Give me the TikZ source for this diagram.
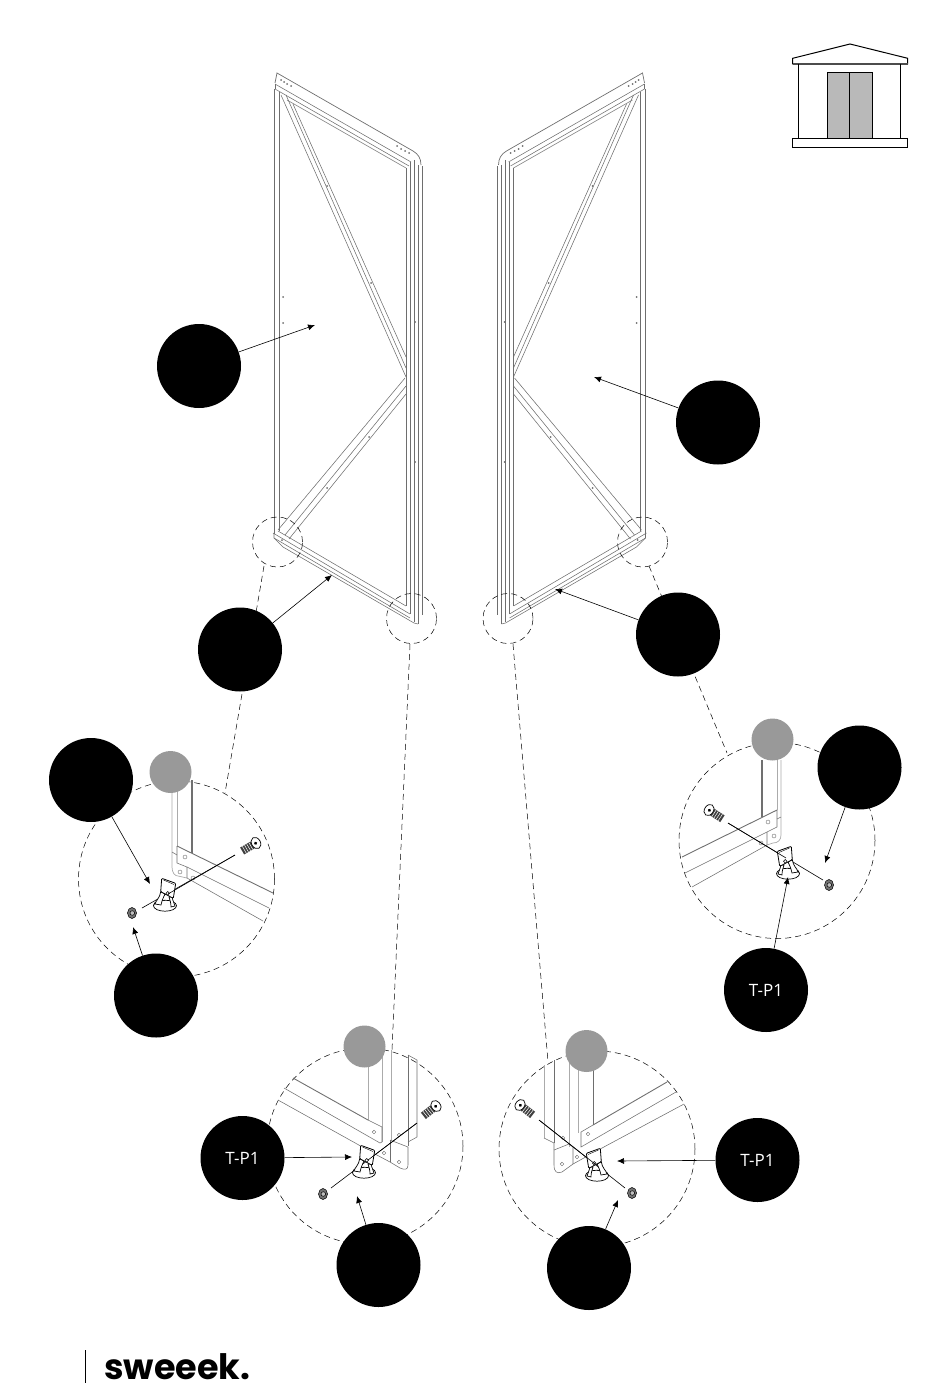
\documentclass[tikz,border=0pt]{standalone}
\usepackage{fontspec}
\usepackage{tikz}
\usetikzlibrary{arrows.meta,positioning}
\newfontfamily\labelfont{Open Sans}
\newfontfamily\brandfont{Poppins}
\definecolor{wire}{HTML}{6E6E6E}
\definecolor{lightwire}{HTML}{ABABAB}
\definecolor{darkwire}{HTML}{707070}
\definecolor{doorgrey}{HTML}{B9B9B9}
\definecolor{markgrey}{HTML}{999999}
\tikzset{
	callout/.style={circle,fill=black,minimum size=84pt,inner sep=0pt,text=white,font=\labelfont\fontsize{17}{17}\selectfont},
	markdot/.style={circle,fill=markgrey,minimum size=42pt,inner sep=0pt},
	ringline/.style={line width=0.5pt,dash pattern=on 6pt off 4pt},
	pointer/.style={line width=0.6pt,-{Latex[length=7pt,width=6pt]}},
	wireline/.style={line width=0.55pt,draw=wire},
	pale/.style={line width=0.7pt,draw=lightwire},
	heavy/.style={line width=1.3pt,draw=darkwire},
	axisline/.style={line width=0.6pt},
	holedot/.style={line width=0.4pt,draw=wire,fill=white},
	screwpart/.pic={
		\fill[black!75] (4,-4) rectangle (16,4);
		\foreach \k in {6,8.5,...,15}
			\draw[white,line width=0.5pt] (\k,-4) -- (\k,4);
		\draw[line width=0.7pt,fill=white] (0,0) ellipse (4.5 and 6);
		\fill[black] (0.5,0) circle (1.7);
	},
	nutpart/.pic={
		\draw[line width=0.5pt,fill=black!55] (0,0) ellipse (4.5 and 5.5);
		\draw[line width=0.5pt,fill=black!25] (0.3,0) circle (2.3);
	},
	footpart/.pic={
		\draw[line width=0.7pt,fill=white] (0,10.7) ellipse (11.5 and 5.5);
		\draw[line width=0.5pt] (-11.5,10.7) .. controls (-11,6) and (-6,5) .. (0,5.5);
		\draw[line width=0.7pt,fill=white] (-4.3,-3.3) .. controls (-5,3) and (-9,5) .. (-10,9) -- (-4,10) .. controls (-3,5) and (-1,1) .. (0,-1) -- cycle;
		\draw[line width=0.7pt,fill=white] (7,2) .. controls (8,6) and (9,8) .. (10,11) -- (6,12) .. controls (6,8) and (5,5) .. (4,2) -- cycle;
		\draw[line width=0.8pt,fill=white,rounded corners=1pt] (-3.3,-16.7) -- (10.7,-11.7) -- (8.3,3.3) -- (-4.3,-3.3) -- cycle;
		\draw[line width=0.4pt] (-1.5,-15) -- (9,-10.5);
		\draw[line width=0.5pt,fill=white] (2.7,-1.7) circle (1.8);
	}
}
% one wire frame panel, drawn in page pixels
\newcommand{\panelframe}{
	% top flange and rail
	\draw[wireline,line width=0.7pt] (275,83) -- (277,73) -- (413,151) .. controls (418,154) and (421,158) .. (421,165);
	\draw[wireline] (275,84) -- (411,162);
	\draw[wireline] (275,89) -- (409,166);
	\draw[wireline] (287,100) -- (406,168);
	\draw[wireline] (275,84) -- (275,89);
	% verticals
	\draw[wireline] (274,89) -- (274,534);
	\draw[wireline] (279,92) -- (279,531);
	\draw[wireline] (406,168) -- (406,606);
	\draw[wireline] (410,162) -- (410,614);
	\draw[wireline] (414,160) -- (414,622);
	\draw[wireline] (418,165) -- (418,624);
	\draw[wireline] (422,166) -- (422,615);
	% braces
	\draw[wireline] (281,95) -- (406,377);
	\draw[wireline] (286,95) -- (406,368);
	\draw[wireline] (293,104) -- (406,357);
	\draw[wireline] (278,530) -- (405,378);
	\draw[wireline] (285,535) -- (406,386);
	\draw[wireline] (289,539) -- (406,394);
	% bottom rail
	\draw[wireline] (278,531) -- (406,606);
	\draw[wireline] (273,533) -- (410,614);
	\draw[wireline] (274,538) -- (410,618);
	\draw[wireline] (274,533) -- (274,538) -- (283,547) -- (414,623) -- (418,624);
	% holes
	\foreach \hx/\hy in {283/297,283/323,327/186,371/283,369/437,327/488,415/322,415/462,282/540}
		\fill[wire] (\hx,\hy) circle (1);
	\foreach \hx/\hy in {281/80,284/82,287/84,291/86,397/146,401/149,405/151,409/153}
		\fill[wire] (\hx,\hy) circle (1);
}
\begin{document}
\begin{tikzpicture}[x=1pt,y=-1pt]
	\useasboundingbox (0,0) rectangle (950,1383);
	% the two panels
	\panelframe
	\begin{scope}[shift={(919.5,0)},xscale=-1]
		\panelframe
	\end{scope}
	% building icon
	\draw[line width=1pt,fill=white] (792.7,64) -- (792.7,58.3) -- (850,44) -- (907.7,58.3) -- (907.7,64) -- cycle;
	\draw[line width=1.6pt,black!70] (792.7,64) -- (907.7,64);
	\draw[line width=1pt] (798.3,64) -- (798.3,138);
	\draw[line width=1pt] (900.7,64) -- (900.7,138);
	\draw[line width=0.8pt,fill=doorgrey] (827.7,72.3) rectangle (872.7,139);
	\draw[line width=0.8pt] (849.3,72.3) -- (849.3,139);
	\draw[line width=1pt,fill=white] (792.7,138.3) rectangle (907.7,147.3);
	% small rings on the panels
	\node[circle,ringline,draw,minimum size=50pt,inner sep=0pt] (ringA) at (277.5,542) {};
	\node[circle,ringline,draw,minimum size=50pt,inner sep=0pt] (ringB) at (411.5,618.5) {};
	\node[circle,ringline,draw,minimum size=50pt,inner sep=0pt] (ringC) at (642.5,542) {};
	\node[circle,ringline,draw,minimum size=50pt,inner sep=0pt] (ringD) at (508,618.5) {};
	% large detail rings
	\node[circle,ringline,draw,minimum size=196pt,inner sep=0pt] (bigA) at (176.5,879) {};
	\node[circle,ringline,draw,minimum size=196pt,inner sep=0pt] (bigB) at (365,1146) {};
	\node[circle,ringline,draw,minimum size=196pt,inner sep=0pt] (bigC) at (777,840.5) {};
	\node[circle,ringline,draw,minimum size=196pt,inner sep=0pt] (bigD) at (597,1149) {};
	% dashed leaders
	\draw[ringline] (264,566) -- (225,793);
	\draw[ringline] (410,644) -- (392,1050);
	\draw[ringline] (649,566) -- (727,753);
	\draw[ringline] (513,644) -- (548,1062);
	% detail left
	\draw[pale] (172,780) -- (172,867) .. controls (172,873) and (175,876) .. (178,876) -- (187,878);
	\draw[pale] (177,780) -- (177,846);
	\draw[heavy] (192,780) -- (192,853);
	\draw[wireline] (177,846) -- (177,863) -- (187,867) -- (187,878) -- (263,921);
	\draw[wireline] (187,867) -- (269,908);
	\draw[heavy,line width=0.9pt] (177,846) -- (273,893);
	\draw[wireline] (172,852) -- (177,855);
	\foreach \hx/\hy in {185/857,180/872,193/878}
		\draw[holedot] (\hx,\hy) circle (2);
	\draw[axisline] (235,855) -- (142,908);
	\pic at (165,895) {footpart};
	\draw[axisline] (235,855) -- (168,894);
	\pic[rotate=210] at (256,843) {screwpart};
	\pic at (132,913) {nutpart};
	% detail bottom left
	\draw[pale] (368,1050) -- (368,1120);
	\draw[pale] (382,1050) -- (382,1142);
	\draw[pale] (391,1050) -- (391,1140);
	\draw[heavy,line width=0.9pt] (408,1055) -- (408,1146);
	\draw[wireline] (408,1055) -- (417,1060) -- (417,1137) -- (408,1142);
	\draw[heavy,line width=0.9pt] (293,1078) -- (368,1120);
	\draw[wireline] (284,1088) -- (380,1143) -- (382,1142) -- (382,1127) -- (368,1120);
	\draw[wireline] (278,1100) -- (375,1154);
	\draw[wireline] (390,1140) -- (408,1147) -- (408,1165) .. controls (408,1170) and (405,1170) .. (400,1168) -- (390,1162) -- (375,1154);
	\draw[wireline] (390,1140) -- (390,1162);
	\foreach \hx/\hy in {374/1132,384/1153,399/1135,399/1162}
		\draw[holedot] (\hx,\hy) circle (1.8);
	\draw[axisline] (417,1123) -- (331,1188);
	\pic at (364,1162) {footpart};
	\draw[axisline] (417,1123) -- (368,1160);
	\pic[rotate=218] at (436,1106) {screwpart};
	\pic at (323,1194) {nutpart};
	% detail right
	\draw[heavy] (762,760) -- (762,817);
	\draw[pale] (777,760) -- (777,810);
	\draw[pale] (781,760) -- (781,835) .. controls (781,840) and (778,843) .. (773,843) -- (767,845);
	\draw[heavy,line width=0.9pt] (777,810) -- (682,857);
	\draw[wireline] (777,810) -- (777,827) -- (767,832) -- (685,873);
	\draw[wireline] (767,832) -- (767,845) -- (692,887);
	\draw[wireline] (781,817) -- (777,819);
	\foreach \hx/\hy in {768/822,774/836,761/843}
		\draw[holedot] (\hx,\hy) circle (2);
	\draw[axisline] (728,823) -- (823,880);
	\pic[xscale=-1] at (788,863) {footpart};
	\draw[axisline] (728,823) -- (786,858);
	\pic[rotate=-33] at (709,810) {screwpart};
	\pic at (829,885) {nutpart};
	% detail bottom right
	\draw[pale] (544,1065) -- (544,1138);
	\draw[wireline] (554,1060) -- (554,1143);
	\draw[pale] (569,1060) -- (569,1147);
	\draw[pale] (578,1060) -- (578,1133);
	\draw[wireline] (593,1060) -- (593,1125);
	\draw[heavy,line width=0.9pt] (593,1125) -- (667,1082);
	\draw[wireline] (593,1125) -- (581,1132) -- (581,1147) -- (676,1092);
	\draw[wireline] (602,1148) -- (684,1104);
	\draw[wireline] (544,1138) -- (554,1143) -- (554,1165) .. controls (554,1172) and (557,1174) .. (562,1172) -- (573,1164) -- (602,1148);
	\draw[wireline] (554,1150) -- (569,1144) -- (573,1147) -- (573,1164);
	\foreach \hx/\hy in {588/1134,577/1157,563/1138,562/1164}
		\draw[holedot] (\hx,\hy) circle (1.8);
	\draw[axisline] (539,1120) -- (625,1188);
	\pic[xscale=-1] at (597,1165) {footpart};
	\draw[axisline] (539,1120) -- (595,1164);
	\pic[rotate=-38] at (520,1105) {screwpart};
	\pic at (632,1193) {nutpart};
	% grey marks
	\node[markdot] (markA) at (170.5,772) {};
	\node[markdot] (markB) at (364.5,1046.5) {};
	\node[markdot] (markC) at (772.5,739.5) {};
	\node[markdot] (markD) at (586.5,1051) {};
	% black callouts
	\node[callout] (panelL) at (199,366) {};
	\node[callout] (panelR) at (718,422.5) {};
	\node[callout] (railL) at (240,649.5) {};
	\node[callout] (railR) at (678,634.5) {};
	\node[callout] (footA) at (91,780) {};
	\node[callout] (nutA) at (156,995.5) {};
	\node[callout] (tagB) at (242.5,1158) {T-P1};
	\node[callout] (nutB) at (378.5,1265) {};
	\node[callout] (footC) at (859.5,767.5) {};
	\node[callout] (tagC) at (766,990) {T-P1};
	\node[callout] (tagD) at (757.5,1160) {T-P1};
	\node[callout] (nutD) at (589,1268) {};
	% arrow tips
	\coordinate (tipPanelL) at (315,325);
	\coordinate (tipPanelR) at (594,377);
	\coordinate (tipRailL) at (332,575);
	\coordinate (tipRailR) at (555,589);
	\coordinate (tipFootA) at (150,884);
	\coordinate (tipNutA) at (133,927);
	\coordinate (tipTagB) at (352,1157);
	\coordinate (tipNutB) at (357,1196);
	\coordinate (tipFootC) at (825,863);
	\coordinate (tipTagC) at (788,877);
	\coordinate (tipTagD) at (617,1161);
	\coordinate (tipNutD) at (618,1200);
	\draw[pointer] (panelL) -- (tipPanelL);
	\draw[pointer] (panelR) -- (tipPanelR);
	\draw[pointer] (railL) -- (tipRailL);
	\draw[pointer] (railR) -- (tipRailR);
	\draw[pointer] (footA) -- (tipFootA);
	\draw[pointer] (nutA) -- (tipNutA);
	\draw[pointer] (tagB) -- (tipTagB);
	\draw[pointer] (nutB) -- (tipNutB);
	\draw[pointer] (footC) -- (tipFootC);
	\draw[pointer] (tagC) -- (tipTagC);
	\draw[pointer] (tagD) -- (tipTagD);
	\draw[pointer] (nutD) -- (tipNutD);
	% brand
	\draw[line width=0.8pt] (85,1350) -- (85,1383);
	\node[anchor=base west,inner sep=0pt] (brand) at (104,1379) {\brandfont\bfseries\fontsize{35}{35}\selectfont sweeek.};
\end{tikzpicture}
\end{document}
